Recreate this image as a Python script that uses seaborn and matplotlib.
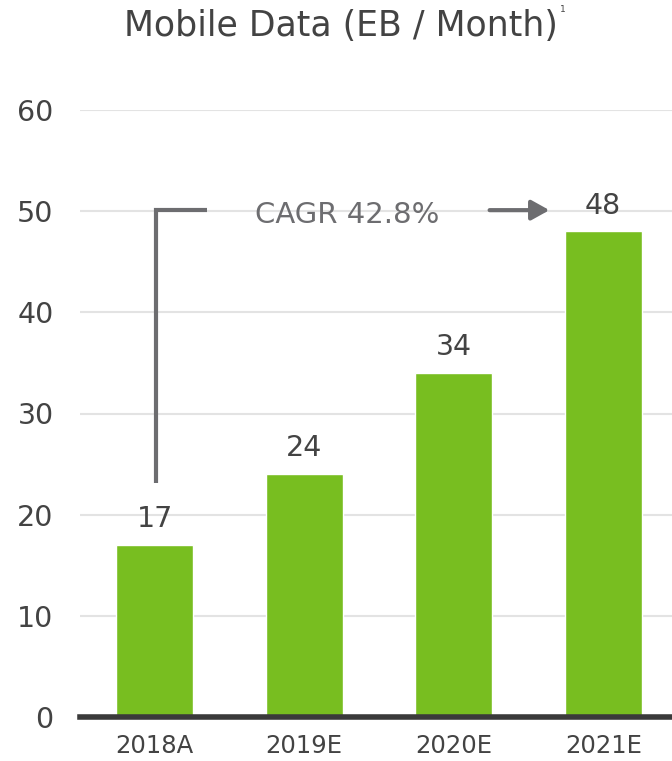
import matplotlib
matplotlib.use("Agg")
import matplotlib.pyplot as plt
import seaborn as sns
import pandas as pd

categories = ["2018A", "2019E", "2020E", "2021E"]
values = [17, 24, 34, 48]
yticks = [0, 10, 20, 30, 40, 50, 60]
title = "Mobile Data (EB / Month)"
cagr_label = "CAGR 42.8%"

sns.set_theme(style="white")
plt.rcParams["font.family"] = ["DejaVu Sans"]

text_color = "#434343"
df = pd.DataFrame({"year": categories, "value": values})

fig = plt.figure(figsize=(6.72, 7.61), dpi=100)
ax = fig.add_axes([80/672, 44/761, 592/672, (717-110)/761])

sns.barplot(data=df, x="year", y="value", color="#78BE20", saturation=1,
            width=0.515, ax=ax, zorder=3)

ax.set_xlim(-0.5, 3.46)
ax.set_ylim(0, 60)
ax.set_yticks(yticks)
ax.set_yticklabels([str(t) for t in yticks])
ax.yaxis.grid(True, color="#e3e3e3", linewidth=1.5, zorder=0)
ax.set_axisbelow(True)
for s in ["top", "right", "left"]:
    ax.spines[s].set_visible(False)
ax.spines["bottom"].set_color("#3a3a3a")
ax.spines["bottom"].set_linewidth(4)
ax.spines["bottom"].set_zorder(5)
ax.tick_params(axis="y", length=0, pad=19, labelsize=20.5, labelcolor=text_color)
ax.tick_params(axis="x", length=0, pad=12, labelsize=17.5, labelcolor=text_color)
ax.set_xlabel("")
ax.set_ylabel("")

for i, v in enumerate(values):
    ax.text(i, v + 1.75, str(v), ha="center", va="baseline", fontsize=20.5,
            color=text_color)

# CAGR bracket and arrow
gray = "#6d6d70"
ax.plot([0.01, 0.01, 0.35], [23.1, 50.1, 50.1], color=gray, linewidth=3,
        solid_capstyle="butt", solid_joinstyle="miter", clip_on=False, zorder=6)
ax.text(1.29, 48.85, cagr_label, ha="center", va="baseline", fontsize=21,
        color=gray)
ax.annotate("", xy=(2.64, 50.1), xytext=(2.24, 50.1),
            arrowprops=dict(arrowstyle="-|>,head_length=0.9,head_width=0.5",
                            color=gray, lw=3, shrinkA=0, shrinkB=0))

t = fig.text(341/672, 1 - 26/761, title, ha="center", va="center",
             fontsize=25, color=text_color)
fig.canvas.draw()
bb = t.get_window_extent()
fig.text((bb.x1 + 2) / fig.bbox.width, 1 - 10/761, "1", ha="left",
         va="center", fontsize=6.5, color=text_color)

fig.savefig("out.png", dpi=100)
